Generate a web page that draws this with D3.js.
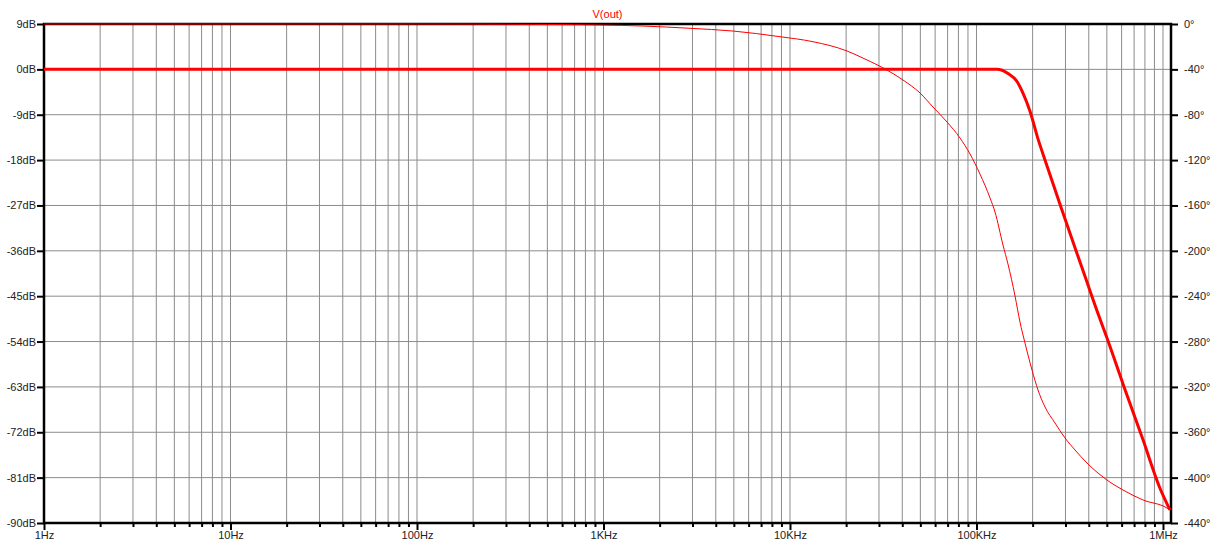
<!DOCTYPE html>
<html>
<head>
<meta charset="utf-8">
<script src="https://cdn.jsdelivr.net/npm/d3@7"></script>
<style>
  body { margin: 0; background: #fff; }
  svg { display: block; }
  text { font-family: "Liberation Sans", Arial, sans-serif; font-size: 11px; fill: #222; }
</style>
</head>
<body>
<div id="wrapper"></div>
<script>
// magnitude trace (thick)
var magFreq = [1, 1000, 100000, 118000, 128800, 147500, 164900, 177500, 193600, 213700, 233000, 287300, 337500, 391300, 442700, 500900, 610400, 781500, 963600, 1090000];
var magDb   = [0, 0, 0, 0, 0, -0.8, -2.4, -4.7, -8.3, -13.8, -18.0, -27.9, -35.4, -42.2, -47.9, -53.3, -62.4, -73.5, -83.1, -87.4];

// phase trace (thin)
var phaseFreq = [1, 100, 500, 958, 1629, 2911, 4946, 8836, 13280, 20220, 25250, 33120, 40360, 49780, 58460, 69500, 81560, 92290, 104400, 118200, 125700, 138700, 147500, 160900, 171100, 182000, 198500, 213700, 233000, 263600, 298200, 337500, 391300, 500900, 610400, 781500, 1050000, 1090000];
var phaseDeg  = [0, 0, -0.4, -0.9, -1.8, -3.8, -6.2, -11.2, -15.6, -23.8, -30.9, -40.6, -49.4, -60.8, -73.2, -86.4, -100.5, -114.6, -132.3, -153.4, -165.8, -194.9, -211.6, -239.8, -262.8, -281.3, -305.1, -322.7, -337.7, -351.8, -365.0, -375.6, -387.1, -402.1, -410.9, -419.7, -426.8, -428.6];

var dbTicks = [9, 0, -9, -18, -27, -36, -45, -54, -63, -72, -81, -90];
var degTicks = [0, -40, -80, -120, -160, -200, -240, -280, -320, -360, -400, -440];
var decades = [1, 10, 100, 1000, 10000, 100000, 1000000];
var decadeLabels = ["1Hz", "10Hz", "100Hz", "1KHz", "10KHz", "100KHz", "1MHz"];

var width = 1219, height = 542;
var plotLeft = 44, plotRight = 1171, plotTop = 24, plotBottom = 523;

var svg = d3.select("#wrapper").append("svg")
    .attr("width", width)
    .attr("height", height);

var x = d3.scaleLog().domain([1, 1104000]).range([plotLeft, plotRight]);
var yDb = d3.scaleLinear().domain([-90, 9]).range([plotBottom, plotTop]);
var yDeg = d3.scaleLinear().domain([-440, 0]).range([plotBottom, plotTop]);

// all the 1..9 lines in each decade
var minor = [];
decades.forEach(function(d) {
    for (var k = 1; k < 10; k++) {
        var f = d * k;
        if (f <= 1104000) minor.push(f);
    }
});

var grid = svg.append("g").attr("stroke", "#8c8c8c").attr("stroke-width", 1);
grid.selectAll("line.v")
    .data(minor.filter(function(f) { return f > 1; }))
    .enter().append("line")
    .attr("x1", function(f) { return x(f); })
    .attr("x2", function(f) { return x(f); })
    .attr("y1", plotTop)
    .attr("y2", plotBottom);
grid.selectAll("line.h")
    .data(dbTicks.slice(1, -1))
    .enter().append("line")
    .attr("x1", plotLeft)
    .attr("x2", plotRight)
    .attr("y1", function(d) { return yDb(d); })
    .attr("y2", function(d) { return yDb(d); });

// traces
var magLine = d3.line()
    .x(function(d) { return x(d[0]); })
    .y(function(d) { return yDb(d[1]); })
    .curve(d3.curveMonotoneX);
var phaseLine = d3.line()
    .x(function(d) { return x(d[0]); })
    .y(function(d) { return yDeg(d[1]); })
    .curve(d3.curveMonotoneX);

// frame
svg.append("rect")
    .attr("x", plotLeft).attr("y", plotTop)
    .attr("width", plotRight - plotLeft).attr("height", plotBottom - plotTop)
    .attr("fill", "none")
    .attr("stroke", "#000")
    .attr("stroke-width", 2.5);

svg.append("path")
    .datum(phaseFreq.map(function(f, i) { return [f, phaseDeg[i]]; }))
    .attr("fill", "none")
    .attr("stroke", "#ff0000")
    .attr("stroke-width", 1)
    .attr("d", phaseLine);

svg.append("path")
    .datum(magFreq.map(function(f, i) { return [f, magDb[i]]; }))
    .attr("fill", "none")
    .attr("stroke", "#ff0000")
    .attr("stroke-width", 3)
    .attr("stroke-linejoin", "round")
    .attr("d", magLine);

// left axis
var yAxisL = d3.axisLeft(yDb).tickValues(dbTicks).tickSize(7).tickPadding(1)
    .tickFormat(function(d) { return d + "dB"; });
var gl = svg.append("g").attr("transform", "translate(" + plotLeft + ",0)").call(yAxisL);

// right axis
var yAxisR = d3.axisRight(yDeg).tickValues(degTicks).tickSize(7).tickPadding(6)
    .tickFormat(function(d) { return d + "\u00b0"; });
var gr = svg.append("g").attr("transform", "translate(" + plotRight + ",0)").call(yAxisR);

// bottom: small ticks for minor lines, labels on decades
var xAxisMinor = d3.axisBottom(x).tickValues(minor.filter(function(f) { return decades.indexOf(f) < 0; }))
    .tickSize(4).tickFormat("");
var gm = svg.append("g").attr("transform", "translate(0," + plotBottom + ")").call(xAxisMinor);
var xAxis = d3.axisBottom(x).tickValues(decades).tickSize(7).tickPadding(1)
    .tickFormat(function(d, i) { return decadeLabels[i]; });
var gb = svg.append("g").attr("transform", "translate(0," + plotBottom + ")").call(xAxis);

[gl, gr, gm, gb].forEach(function(g) {
    g.select(".domain").remove();
    g.selectAll(".tick line").attr("stroke", "#000").attr("stroke-width", 2);
    g.selectAll("text").attr("font-family", null).attr("font-size", null).attr("fill", "#222");
});

svg.append("text")
    .attr("x", (plotLeft + plotRight) / 2)
    .attr("y", 18)
    .attr("text-anchor", "middle")
    .style("fill", "#ff0000")
    .text("V(out)");
</script>
</body>
</html>
